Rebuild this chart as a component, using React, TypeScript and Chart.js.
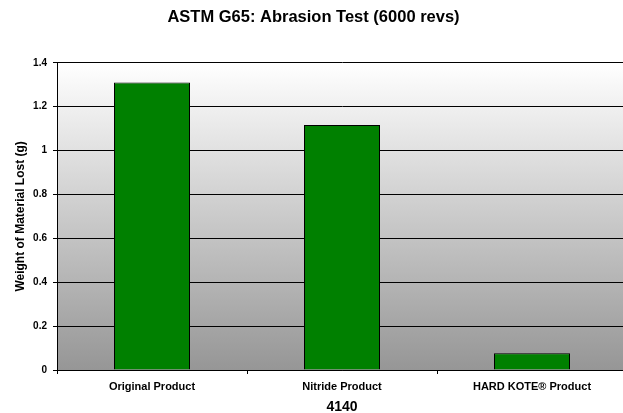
import React, { useEffect, useRef } from 'react';
import { Chart, registerables } from 'chart.js';

Chart.register(...registerables);

const chartTitle = 'ASTM G65: Abrasion Test (6000 revs)';
const categories = ['Original Product', 'Nitride Product', 'HARD KOTE® Product'];
const weightLost = [1.31, 1.117, 0.076];
const yAxisTitle = 'Weight of Material Lost (g)';
const xAxisTitle = '4140';
const yMin = 0;
const yMax = 1.4;
const yStep = 0.2;

const FONT = "'Liberation Sans', Arial, Helvetica, sans-serif";

const plotBackground = {
  id: 'plotBackground',
  beforeDraw(chart: any) {
    const { ctx, chartArea: a } = chart;
    if (!a) return;
    const g = ctx.createLinearGradient(0, a.top, 0, a.bottom);
    g.addColorStop(0, '#ffffff');
    g.addColorStop(1, '#969696');
    ctx.save();
    ctx.fillStyle = g;
    ctx.fillRect(a.left, a.top, a.right - a.left, a.bottom - a.top);
    ctx.restore();
  },
};

export default function App() {
  const ref = useRef<HTMLCanvasElement | null>(null);

  useEffect(() => {
    if (!ref.current) return;
    const chart = new Chart(ref.current, {
      type: 'bar',
      data: {
        labels: categories,
        datasets: [
          {
            data: weightLost,
            backgroundColor: '#008000',
            borderColor: '#000000',
            borderWidth: 1,
            categoryPercentage: 1,
            barPercentage: 0.4,
          },
        ],
      },
      options: {
        responsive: false,
        animation: false,
        devicePixelRatio: 1,
        layout: { padding: { left: 0, right: 7, top: 0, bottom: 0 } },
        plugins: {
          legend: { display: false },
          tooltip: { enabled: false },
          title: {
            display: true,
            text: chartTitle,
            color: '#000000',
            font: { family: FONT, size: 16.5, weight: 'bold', lineHeight: 1.2 },
            padding: { top: 8, bottom: 35 },
          },
        },
        scales: {
          x: {
            grid: {
              display: true,
              drawOnChartArea: false,
              drawTicks: true,
              tickLength: 4,
              color: '#000000',
              offset: true,
            },
            border: { color: '#000000', width: 1 },
            ticks: {
              color: '#000000',
              font: { family: FONT, size: 11, weight: 'bold' },
              padding: 6,
              maxRotation: 0,
              autoSkip: false,
            },
            title: {
              display: true,
              text: xAxisTitle,
              color: '#000000',
              font: { family: FONT, size: 14, weight: 'bold', lineHeight: 1 },
              padding: { top: 0, bottom: -1 },
            },
            afterFit(s: any) {
              s.height = 43;
            },
          },
          y: {
            min: yMin,
            max: yMax,
            ticks: {
              stepSize: yStep,
              color: '#000000',
              font: { family: FONT, size: 10, weight: 'bold' },
              padding: 6,
              callback: (v: any) => String(Math.round(Number(v) * 10) / 10),
            },
            grid: { color: '#000000', lineWidth: 1, tickLength: 4 },
            border: { color: '#000000', width: 1 },
            title: {
              display: true,
              text: yAxisTitle,
              color: '#000000',
              font: { family: FONT, size: 12, weight: 'bold', lineHeight: 1.2 },
              padding: { top: 13, bottom: 0 },
            },
            afterFit(s: any) {
              s.width = 57;
            },
          },
        },
      } as any,
      plugins: [plotBackground],
    });
    return () => chart.destroy();
  }, []);

  return (
    <div
      style={{
        position: 'fixed',
        left: 0,
        top: 0,
        width: '623px',
        height: '413px',
        overflow: 'hidden',
        background: '#ffffff',
      }}
    >
      <canvas
        ref={ref}
        width={634}
        height={413}
        style={{ display: 'block', width: '634px', height: '413px' }}
      />
    </div>
  );
}
